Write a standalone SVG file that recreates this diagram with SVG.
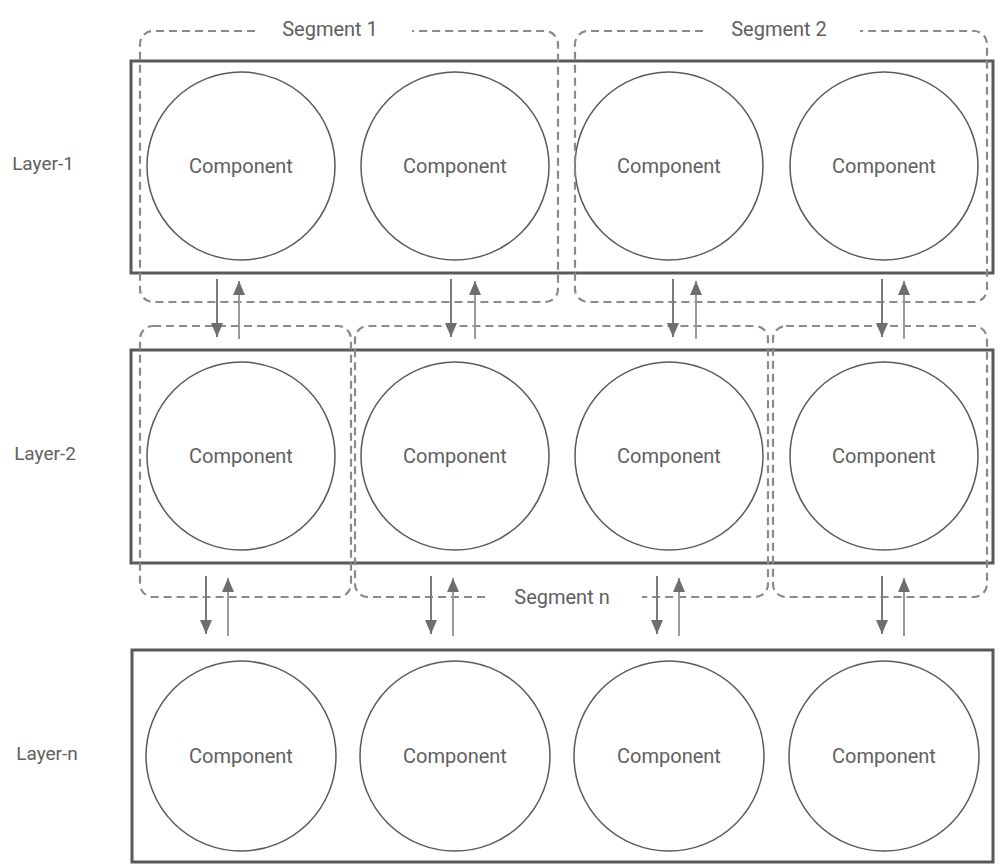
<svg xmlns="http://www.w3.org/2000/svg" width="1003" height="864" viewBox="0 0 1003 864">
<style>
.layer{fill:none;stroke:#595959;stroke-width:3}
.comp{fill:none;stroke:#5a5a5a;stroke-width:1.5}
.seg{fill:none;stroke:#8a8a8a;stroke-width:2.2;stroke-dasharray:8 5}
.t{font-family:Roboto,"Liberation Sans",sans-serif;fill:#606060;text-anchor:middle;dominant-baseline:central}
.ct{font-size:20px}
.lt{font-size:19px}
.st{font-size:20px}
.dn{stroke:#7a7a7a;stroke-width:2;fill:none;marker-end:url(#ah)}
.up{stroke:#9a9a9a;stroke-width:2;fill:none;marker-end:url(#ah)}
</style>
<defs>
<marker id="ah" viewBox="0 0 14 12" refX="14" refY="6" markerWidth="14" markerHeight="12" markerUnits="userSpaceOnUse" orient="auto">
<path d="M0,0 L14,6 L0,12 z" fill="#6e6e6e"/>
</marker>
</defs>
<rect width="1003" height="864" fill="#ffffff"/>

<g id="layer-1">
<rect class="layer" x="131" y="61" width="862" height="212"/>
<text class="t lt" x="43" y="163">Layer-1</text>
</g>
<g id="layer-2">
<rect class="layer" x="131" y="350" width="862" height="213"/>
<text class="t lt" x="45" y="453">Layer-2</text>
</g>
<g id="layer-n">
<rect class="layer" x="132" y="650" width="861" height="212"/>
<text class="t lt" x="47" y="753">Layer-n</text>
</g>

<g id="l1-c1"><circle class="comp" cx="241" cy="166" r="94"/><text class="t ct" x="241" y="166">Component</text></g>
<g id="l1-c2"><circle class="comp" cx="455" cy="166" r="94"/><text class="t ct" x="455" y="166">Component</text></g>
<g id="l1-c3"><circle class="comp" cx="669" cy="166" r="94"/><text class="t ct" x="669" y="166">Component</text></g>
<g id="l1-c4"><circle class="comp" cx="884" cy="166" r="94"/><text class="t ct" x="884" y="166">Component</text></g>

<g id="l2-c1"><circle class="comp" cx="241" cy="456" r="94"/><text class="t ct" x="241" y="456">Component</text></g>
<g id="l2-c2"><circle class="comp" cx="455" cy="456" r="94"/><text class="t ct" x="455" y="456">Component</text></g>
<g id="l2-c3"><circle class="comp" cx="669" cy="456" r="94"/><text class="t ct" x="669" y="456">Component</text></g>
<g id="l2-c4"><circle class="comp" cx="884" cy="456" r="94"/><text class="t ct" x="884" y="456">Component</text></g>

<g id="ln-c1"><circle class="comp" cx="241" cy="756" r="95"/><text class="t ct" x="241" y="756">Component</text></g>
<g id="ln-c2"><circle class="comp" cx="455" cy="756" r="95"/><text class="t ct" x="455" y="756">Component</text></g>
<g id="ln-c3"><circle class="comp" cx="669" cy="756" r="95"/><text class="t ct" x="669" y="756">Component</text></g>
<g id="ln-c4"><circle class="comp" cx="884" cy="756" r="95"/><text class="t ct" x="884" y="756">Component</text></g>

<g id="segment-1">
<path class="seg" d="M255,31 H153 A13,13 0 0 0 140,44 V289 A13,13 0 0 0 153,302 H545 A13,13 0 0 0 558,289 V44 A13,13 0 0 0 545,31 H412"/>
<text class="t st" x="330" y="29">Segment 1</text>
</g>
<g id="segment-2">
<path class="seg" d="M703,31 H588 A13,13 0 0 0 575,44 V289 A13,13 0 0 0 588,302 H974 A13,13 0 0 0 987,289 V44 A13,13 0 0 0 974,31 H860"/>
<text class="t st" x="779" y="29">Segment 2</text>
</g>
<g id="segment-n-left">
<rect class="seg" x="140" y="326" width="211" height="271" rx="13" ry="13"/>
</g>
<g id="segment-n">
<path class="seg" d="M485,597 H368 A13,13 0 0 1 355,584 V339 A13,13 0 0 1 368,326 H755 A13,13 0 0 1 768,339 V584 A13,13 0 0 1 755,597 H642"/>
<text class="t st" x="562" y="597">Segment n</text>
</g>
<g id="segment-n-right">
<rect class="seg" x="773" y="326" width="214" height="271" rx="13" ry="13"/>
</g>

<g id="connectors">
<line class="dn" x1="217" y1="279" x2="217" y2="337"/>
<line class="up" x1="239" y1="339" x2="239" y2="281"/>
<line class="dn" x1="451" y1="279" x2="451" y2="337"/>
<line class="up" x1="475" y1="339" x2="475" y2="281"/>
<line class="dn" x1="673" y1="279" x2="673" y2="337"/>
<line class="up" x1="696" y1="339" x2="696" y2="281"/>
<line class="dn" x1="882" y1="279" x2="882" y2="337"/>
<line class="up" x1="904" y1="339" x2="904" y2="281"/>

<line class="dn" x1="206" y1="576" x2="206" y2="634"/>
<line class="up" x1="228" y1="636" x2="228" y2="578"/>
<line class="dn" x1="431" y1="576" x2="431" y2="634"/>
<line class="up" x1="453" y1="636" x2="453" y2="578"/>
<line class="dn" x1="657" y1="576" x2="657" y2="634"/>
<line class="up" x1="679" y1="636" x2="679" y2="578"/>
<line class="dn" x1="882" y1="576" x2="882" y2="634"/>
<line class="up" x1="904" y1="636" x2="904" y2="578"/>
</g>
</svg>
